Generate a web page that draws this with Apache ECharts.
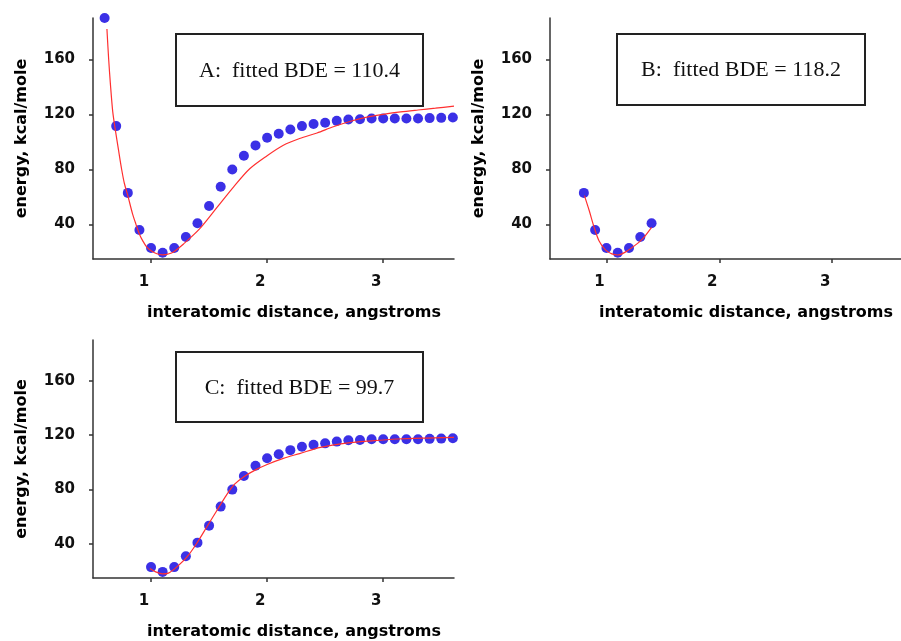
<!DOCTYPE html>
<html>
<head>
<meta charset="utf-8">
<script src="https://cdn.jsdelivr.net/npm/echarts@6/dist/echarts.min.js"></script>
<style>
  html, body { margin: 0; padding: 0; background: #fff; }
  #main { width: 901px; height: 641px; }
</style>
</head>
<body>
<div id="main"></div>
<script>
// computed points (same set in all three panels)
const dist = [0.6, 0.7, 0.8, 0.9, 1.0, 1.1, 1.2, 1.3, 1.4, 1.5, 1.6, 1.7, 1.8, 1.9, 2.0,
  2.1, 2.2, 2.3, 2.4, 2.5, 2.6, 2.7, 2.8, 2.9, 3.0, 3.1, 3.2, 3.3, 3.4, 3.5, 3.6];
const energy = [190, 111.5, 63, 36, 23, 19.5, 23, 31, 41, 53.5, 67.5, 80, 90, 97.5, 103,
  106, 109, 111.5, 113, 114, 115.3, 116.3, 116.5, 117, 117, 117, 117, 117, 117.3, 117.5, 117.8];

// fitted curves
const fitAx = [0.62, 0.635, 0.65, 0.67, 0.69, 0.72, 0.747, 0.77, 0.8, 0.84, 0.871, 0.9, 0.93, 0.96,
  1.0, 1.05, 1.1, 1.15, 1.2, 1.28, 1.42, 1.57, 1.71, 1.85, 2.0, 2.14, 2.28, 2.43, 2.57, 2.72,
  2.86, 3.0, 3.15, 3.3, 3.45, 3.61];
const fitAy = [182, 160, 142, 122, 110, 94, 80, 70, 61, 48, 40, 33, 28, 24,
  21, 18.8, 18, 18.6, 20.5, 25.9, 37, 52.6, 67.2, 80.5, 90, 97.6, 102.5, 106.5, 111, 115,
  118, 120, 121.8, 123.2, 124.5, 126];
const fitBx = [0.805, 0.848, 0.891, 0.934, 0.991, 1.048, 1.1, 1.163, 1.25, 1.32, 1.4];
const fitBy = [61, 50, 38, 28.3, 21.6, 18.7, 17.9, 19.8, 24.7, 29.6, 38];
const fitCx = [0.99, 1.04, 1.1, 1.15, 1.22, 1.31, 1.39, 1.48, 1.57, 1.65, 1.72, 1.8, 1.9, 2.0,
  2.14, 2.28, 2.46, 2.72, 2.86, 3.12, 3.44, 3.61];
const fitCy = [22, 19.5, 18, 18.6, 23, 30.5, 40, 52.5, 65, 76, 84, 89.5, 94.5, 98.5,
  103, 106.5, 111, 114.5, 115.6, 117.2, 118, 118.4];

const xTicks = [1, 2, 3];
const yTicks = [40, 80, 120, 160];
const labels = ["A:  fitted BDE = 110.4", "B:  fitted BDE = 118.2", "C:  fitted BDE = 99.7"];
const xName = "interatomic distance, angstroms";
const yName = "energy, kcal/mole";

function zip(xs, ys) {
  return xs.map((x, i) => [x, ys[i]]);
}
const pts = zip(dist, energy);

const grids = [
  { left: 93, top: 18, width: 361, height: 241 },
  { left: 550, top: 18, width: 362, height: 241 },
  { left: 93, top: 340, width: 361, height: 239 },
];

const axisLine = { lineStyle: { color: '#333', width: 1.5 } };
const axisTick = { length: 4, lineStyle: { color: '#333', width: 1.5 } };

let xAxis = grids.map((g, i) => ({
  type: 'value', gridIndex: i, min: 0.5, max: 3.61,
  axisLine: axisLine,
  axisTick: Object.assign({ customValues: xTicks }, axisTick),
  axisLabel: {
    customValues: xTicks, margin: 16, padding: [0, 14, 0, 0],
    fontFamily: 'DejaVu Sans', fontWeight: 'bold', fontSize: 15, color: '#111'
  },
  splitLine: { show: false },
  name: xName, nameLocation: 'middle', nameGap: 46,
  nameTextStyle: {
    fontFamily: 'DejaVu Sans', fontWeight: 'bold', fontSize: 16, color: '#000',
    padding: [0, 0, 0, 41]
  }
}));

let yAxis = grids.map((g, i) => ({
  type: 'value', gridIndex: i, min: 15, max: 190,
  axisLine: axisLine,
  axisTick: Object.assign({ customValues: yTicks }, axisTick),
  axisLabel: {
    customValues: yTicks, margin: 18, padding: [10, 0, 0, 0],
    fontFamily: 'DejaVu Sans', fontWeight: 'bold', fontSize: 15, color: '#111'
  },
  splitLine: { show: false },
  name: yName, nameLocation: 'middle', nameGap: 63,
  nameTextStyle: { fontFamily: 'DejaVu Sans', fontWeight: 'bold', fontSize: 16, color: '#000' }
}));

function dots(i, data) {
  return {
    type: 'scatter', xAxisIndex: i, yAxisIndex: i, data: data,
    symbolSize: 10, clip: false, z: 2,
    itemStyle: { color: '#3b30e6', opacity: 1 }
  };
}
function fit(i, data) {
  return {
    type: 'line', xAxisIndex: i, yAxisIndex: i, data: data,
    smooth: 0.3, showSymbol: false, z: 3,
    lineStyle: { color: '#ff3030', width: 1.2 }
  };
}

// annotation boxes
const boxes = [
  { x: 176, y: 34, w: 247, h: 72 },
  { x: 617, y: 34, w: 248, h: 71 },
  { x: 176, y: 352, w: 247, h: 70 },
];
const graphic = [];
boxes.forEach((b, i) => {
  graphic.push({
    type: 'rect', shape: { x: b.x, y: b.y, width: b.w, height: b.h },
    style: { fill: '#fff', stroke: '#222', lineWidth: 2 }, z: 10
  });
  graphic.push({
    type: 'text', x: b.x + b.w / 2, y: b.y + b.h / 2 + 1, z: 11,
    style: {
      text: labels[i], align: 'center', verticalAlign: 'middle',
      font: '22px "Liberation Serif"', fill: '#111'
    }
  });
});

let myChart = echarts.init(document.getElementById('main'));
myChart.setOption({
  animation: false,
  backgroundColor: '#fff',
  grid: grids,
  xAxis: xAxis,
  yAxis: yAxis,
  graphic: graphic,
  series: [
    dots(0, pts),
    fit(0, zip(fitAx, fitAy)),
    dots(1, pts.slice(2, 9)),
    fit(1, zip(fitBx, fitBy)),
    dots(2, pts.slice(4)),
    fit(2, zip(fitCx, fitCy)),
  ]
});
</script>
</body>
</html>
